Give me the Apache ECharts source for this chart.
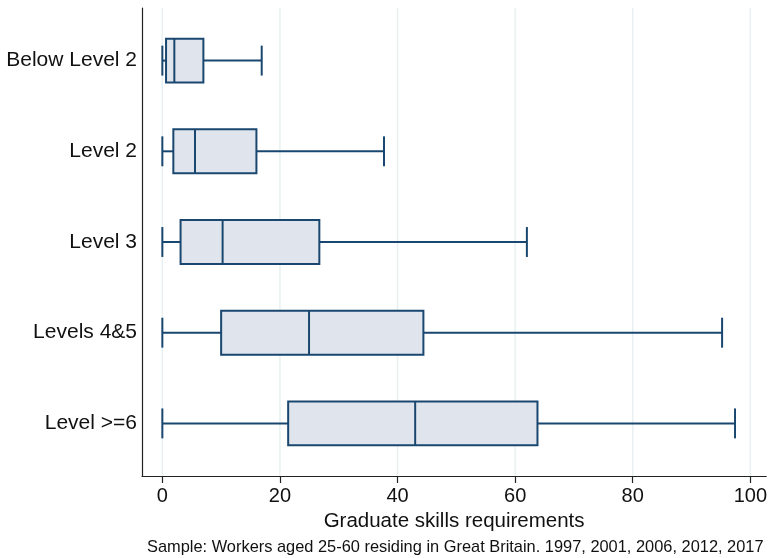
<!DOCTYPE html>
<html>
<head>
<meta charset="utf-8">
<script src="https://cdn.jsdelivr.net/npm/echarts@6/dist/echarts.min.js"></script>
<style>html,body{margin:0;padding:0;background:#fff}#c{width:770px;height:558px}</style>
</head>
<body>
<div id="c"></div>
<script>
const categories = ['Below Level 2', 'Level 2', 'Level 3', 'Levels 4&5', 'Level >=6'];
const lowerWhisker = [0, 0, 0, 0, 0];
const q1 = [0.63, 1.87, 3.1, 10.0, 21.4];
const median = [2.04, 5.55, 10.25, 24.95, 43.0];
const q3 = [6.98, 16.0, 26.7, 44.4, 63.8];
const upperWhisker = [16.9, 37.7, 62.0, 95.2, 97.4];
const xTickValues = [0, 20, 40, 60, 80, 100];
const xTitle = 'Graduate skills requirements';
const note = 'Sample: Workers aged 25-60 residing in Great Britain. 1997, 2001, 2006, 2012, 2017';

const FONT = '"Liberation Sans", Arial, Helvetica, sans-serif';
const NAVY = '#1a476f';
const FILL = '#e0e5ed';
const GRID = '#e8f0f1';
const BOX_H = 0.484;   // in category units
const CAP_H = 0.33;
const Y_MIN = -0.58, Y_MAX = 4.58;

const boxData = categories.map((c, i) => [i, lowerWhisker[i], q1[i], median[i], q3[i], upperWhisker[i]]);
const gridData = xTickValues.map(v => [v]);

const chart = echarts.init(document.getElementById('c'), null, {renderer: 'canvas'});
chart.setOption({
  animation: false,
  backgroundColor: '#fff',
  textStyle: {fontFamily: FONT},
  title: {
    text: note,
    left: 142,
    top: 534,
    textStyle: {fontFamily: FONT, fontSize: 16.4, fontWeight: 'normal', color: '#111'}
  },
  grid: {left: 142, right: 1, top: 8, bottom: 82, containLabel: false},
  xAxis: {
    type: 'value',
    min: -3.46,
    max: 102.7,
    name: xTitle,
    nameLocation: 'middle',
    nameGap: 33,
    nameTextStyle: {fontFamily: FONT, fontSize: 20.5, color: '#111'},
    axisLine: {show: true, onZero: false, lineStyle: {color: '#222', width: 1.2}},
    axisTick: {show: true, length: 7, customValues: xTickValues, lineStyle: {color: '#222', width: 1.2}},
    axisLabel: {customValues: xTickValues, fontFamily: FONT, fontSize: 20, color: '#111', margin: 10},
    splitLine: {show: false}
  },
  yAxis: {
    type: 'value',
    inverse: true,
    min: Y_MIN,
    max: Y_MAX,
    axisLine: {show: true, onZero: false, lineStyle: {color: '#222', width: 1.2}},
    axisTick: {show: false},
    axisLabel: {
      customValues: categories.map((c, i) => i),
      formatter: v => categories[Math.round(v)],
      fontFamily: FONT, fontSize: 21, color: '#111', margin: 5
    },
    splitLine: {show: false}
  },
  series: [
    {
      type: 'custom',
      name: 'grid',
      silent: true,
      z: 1,
      data: gridData,
      encode: {x: 0},
      renderItem: (params, api) => {
        const v = api.value(0);
        const p1 = api.coord([v, Y_MIN]);
        const p2 = api.coord([v, Y_MAX]);
        return {type: 'line', shape: {x1: p1[0], y1: p1[1], x2: p2[0], y2: p2[1]},
          style: {stroke: GRID, lineWidth: 1.5}};
      }
    },
    {
      type: 'custom',
      name: 'box',
      z: 3,
      data: boxData,
      encode: {y: 0, x: [1, 2, 3, 4, 5]},
      renderItem: (params, api) => {
        const i = api.value(0);
        const lo = api.value(1), a = api.value(2), m = api.value(3), b = api.value(4), hi = api.value(5);
        const top = api.coord([0, i - BOX_H / 2])[1];
        const bot = api.coord([0, i + BOX_H / 2])[1];
        const ctop = api.coord([0, i - CAP_H / 2])[1];
        const cbot = api.coord([0, i + CAP_H / 2])[1];
        const cy = api.coord([0, i])[1];
        const xlo = api.coord([lo, i])[0], xa = api.coord([a, i])[0], xm = api.coord([m, i])[0];
        const xb = api.coord([b, i])[0], xhi = api.coord([hi, i])[0];
        const ls = {stroke: NAVY, lineWidth: 2};
        return {
          type: 'group',
          children: [
            {type: 'line', shape: {x1: xlo, y1: cy, x2: xa, y2: cy}, style: ls},
            {type: 'line', shape: {x1: xb, y1: cy, x2: xhi, y2: cy}, style: ls},
            {type: 'line', shape: {x1: xlo, y1: ctop, x2: xlo, y2: cbot}, style: ls},
            {type: 'line', shape: {x1: xhi, y1: ctop, x2: xhi, y2: cbot}, style: ls},
            {type: 'rect', shape: {x: xa, y: top, width: xb - xa, height: bot - top},
              style: {fill: FILL, stroke: NAVY, lineWidth: 2}},
            {type: 'line', shape: {x1: xm, y1: top, x2: xm, y2: bot}, style: ls}
          ]
        };
      }
    }
  ]
});
</script>
</body>
</html>
